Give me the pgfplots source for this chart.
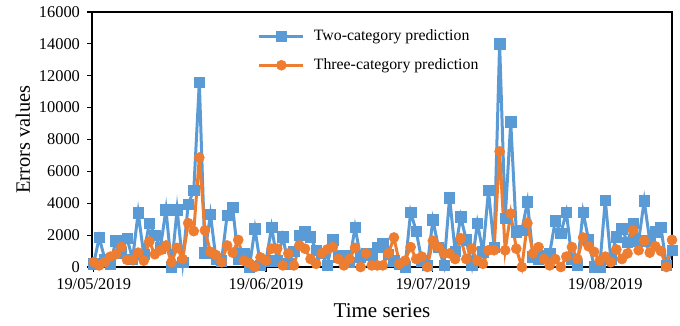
\documentclass[border=0pt]{standalone}
\usepackage{pgfplots}
\usepackage{pgfplotstable}
\pgfplotsset{compat=1.18}
\usepackage{fontspec}
\setmainfont{Liberation Serif}

\definecolor{twoblue}{HTML}{5B9BD5}
\definecolor{threeorange}{HTML}{ED7D31}

% day index (0 = 19/05/2019), two-category error, three-category error
\pgfplotstableread{
day two three
0 200 300
1 1850 100
2 500 300
3 200 650
4 1650 800
5 900 1250
6 1800 450
7 500 450
8 3400 900
9 800 400
10 2750 1600
11 2000 800
12 1200 1050
13 3600 1350
14 0 300
15 3600 1200
16 300 500
17 3950 2750
18 4800 2250
19 11600 6870
20 900 2300
21 3300 950
22 500 750
23 400 300
24 3250 1350
25 3750 900
26 500 1700
27 850 400
28 0 250
29 2400 0
30 100 600
31 400 400
32 2500 1150
33 400 1150
34 1900 100
35 200 850
36 1000 100
37 2000 1350
38 2200 1150
39 1900 500
40 1050 200
41 850 850
42 100 1100
43 1700 1250
44 600 500
45 700 100
46 300 500
47 2500 1200
48 600 0
49 850 850
50 750 100
51 1250 100
52 1500 100
53 800 850
54 400 1850
55 200 200
56 0 400
57 3450 1250
58 2250 500
59 400 650
60 100 0
61 2950 1650
62 1250 1250
63 100 850
64 4350 850
65 1000 500
66 3150 1800
67 1700 500
68 100 1150
69 2750 400
70 950 200
71 4800 1050
72 1250 1050
73 14000 7250
74 3050 1050
75 9100 3350
76 2200 1150
77 2300 0
78 4100 2750
79 650 850
80 500 1250
81 700 500
82 850 100
83 2900 500
84 2100 0
85 3450 650
86 500 1250
87 100 500
88 3450 1850
89 1700 1300
90 0 950
91 0 400
92 4200 650
93 500 300
94 1900 1100
95 2400 500
96 1550 850
97 2750 2300
98 1650 1050
99 4150 1650
100 1650 900
101 2200 1300
102 2500 1000
103 100 0
104 1050 1700
}\errdata

\begin{document}
\begin{tikzpicture}
\begin{axis}[
  scale only axis,
  width=290pt, height=127.5pt,
  xmin=-0.3, xmax=104,
  ymin=0, ymax=16000,
  ytick={0,2000,...,16000},
  scaled y ticks=false,
  xtick={0,31,61,92},
  xticklabels={19/05/2019,19/06/2019,19/07/2019,19/08/2019},
  xtick pos=lower, ytick pos=left,
  tick align=outside,
  major tick length=2.5pt,
  every tick/.style={black, line width=0.6pt},
  axis line style={black, line width=0.9pt},
  /pgf/number format/1000 sep={},
  /pgf/number format/assume math mode=true,
  ticklabel style={font=\fontsize{8.2}{9.8}\selectfont},
  xlabel={Time series},
  ylabel={Errors values},
  xlabel style={font=\fontsize{10.5}{12}\selectfont, at={(axis description cs:0.5,-0.172)}, anchor=center},
  ylabel style={font=\fontsize{10.2}{12}\selectfont, at={(axis description cs:-0.119,0.5)}, anchor=center},
  clip=false,
  legend style={at={(0.275,0.965)}, anchor=north west, draw=none, fill=none,
    font=\fontsize{7.9}{9.5}\selectfont, row sep=3.5pt,
    nodes={inner xsep=4.5pt}},
  legend cell align=left,
  legend image code/.code={
    \draw[mark repeat=2,mark phase=2] plot coordinates {(0pt,0pt) (11pt,0pt) (22pt,0pt)};
  },
]
\addplot[twoblue, line width=1.5pt, mark=square*, mark size=2.6pt,
  mark options={solid, fill=twoblue, draw=twoblue, line width=0.3pt}]
  table[x=day, y=two] {\errdata};
\addlegendentry{Two-category prediction}
\addplot[threeorange, line width=1.5pt, mark=*, mark size=2.5pt,
  mark options={solid, fill=threeorange, draw=threeorange, line width=0.3pt}]
  table[x=day, y=three] {\errdata};
\addlegendentry{Three-category prediction}
\end{axis}
\pgfresetboundingbox
\path[use as bounding box] (-46pt,-29.5pt) rectangle (294pt,133.5pt);
\end{tikzpicture}
\end{document}
